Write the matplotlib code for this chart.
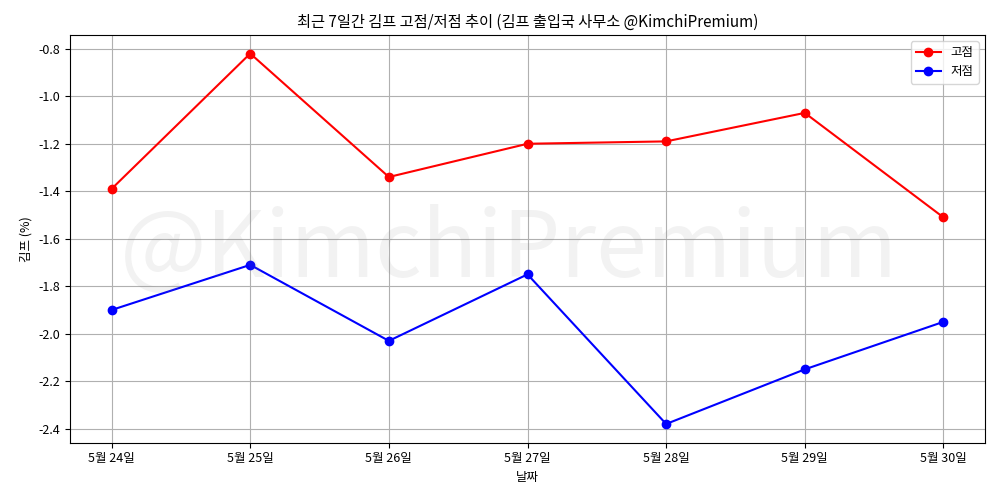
import matplotlib
matplotlib.use("Agg")
import matplotlib.pyplot as plt

plt.rcParams['font.family'] = ['Noto Sans CJK KR', 'DejaVu Sans']
plt.rcParams['axes.unicode_minus'] = False

dates = ['5월 24일', '5월 25일', '5월 26일', '5월 27일', '5월 28일', '5월 29일', '5월 30일']
high = [-1.39, -0.82, -1.34, -1.20, -1.19, -1.07, -1.51]
low = [-1.90, -1.71, -2.03, -1.75, -2.38, -2.15, -1.95]

fig, ax = plt.subplots(figsize=(10, 5), dpi=100)
ax.plot(dates, high, 'o-', color='red', label='고점')
ax.plot(dates, low, 'o-', color='blue', label='저점')
ax.set_title('최근 7일간 김프 고점/저점 추이 (김프 출입국 사무소 @KimchiPremium)', fontsize=11)
ax.set_xlabel('날짜', fontsize=9)
ax.set_ylabel('김프 (%)', fontsize=9)
ax.tick_params(labelsize=9)
ax.grid(True)
ax.legend(loc='upper right', fontsize=9)
ax.text(0.48, 0.47, '@KimchiPremium', transform=ax.transAxes, fontsize=66,
        color='gray', alpha=0.1, ha='center', va='center')
fig.subplots_adjust(left=0.07, right=0.985, top=0.93, bottom=0.115)
fig.savefig('out.png')
